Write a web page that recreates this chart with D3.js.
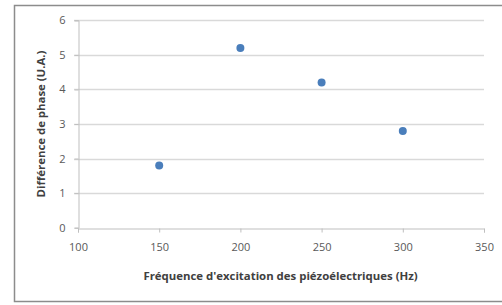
<!DOCTYPE html>
<html><head><meta charset="utf-8">
<script src="https://cdn.jsdelivr.net/npm/d3@7"></script>
<style>body{margin:0;background:#fff}svg{display:block}</style>
</head><body>
<script>
const frequencies = [150, 200, 250, 300];
const phaseDiff = [1.8, 5.2, 4.2, 2.8];
const xTicks = [100, 150, 200, 250, 300, 350];
const yTicks = [0, 1, 2, 3, 4, 5, 6];
const xTitle = "Fréquence d'excitation des piézoélectriques (Hz)";
const yTitle = "Différence de phase (U.A.)";

const W = 502, H = 305;
const svg = d3.select("body").append("svg").attr("width", W).attr("height", H);
svg.append("rect").attr("x", 14.5).attr("y", 5.5).attr("width", 500).attr("height", 296)
  .attr("fill", "#fff").attr("stroke", "#8c8c8c").attr("stroke-width", 1.5);

const x = d3.scaleLinear().domain([100, 350]).range([78, 484]);
const y = d3.scaleLinear().domain([0, 6]).range([227.7, 20.3]);
const font = "'Open Sans', 'Liberation Sans', sans-serif";

// gridlines
svg.append("g").selectAll("line").data(yTicks.filter(d => d > 0)).join("line")
  .attr("x1", 74).attr("x2", x(350)).attr("y1", d => Math.round(y(d)) + 0.5).attr("y2", d => Math.round(y(d)) + 0.5)
  .attr("stroke", "#d9d9d9").attr("stroke-width", 1.3);

// y axis
const yAxis = svg.append("g").attr("transform", `translate(${Math.round(x(100)) + 0.5},0)`)
  .call(d3.axisLeft(y).tickValues(yTicks).tickFormat(d3.format("d")).tickSize(4).tickPadding(9));
// x axis
const xAxis = svg.append("g").attr("transform", `translate(0,${Math.round(y(0)) + 0.5})`)
  .call(d3.axisBottom(x).tickValues(xTicks).tickFormat(d3.format("d")).tickSize(4).tickPadding(11));
[yAxis, xAxis].forEach(a => {
  a.select(".domain").attr("stroke", "#bfbfbf");
  a.selectAll(".tick line").attr("stroke", "#bfbfbf");
  a.selectAll(".tick text").attr("fill", "#595959").attr("font-family", font).attr("font-size", 11);
});

// points
svg.append("g").selectAll("circle").data(frequencies.map((f, i) => [f, phaseDiff[i]])).join("circle")
  .attr("cx", d => x(d[0])).attr("cy", d => y(d[1])).attr("r", 4)
  .attr("fill", "#4a7ebb");

// titles
svg.append("text").attr("x", 280.5).attr("y", 280).attr("text-anchor", "middle")
  .attr("font-family", font).attr("font-weight", "bold").attr("font-size", 11.4).attr("fill", "#404040")
  .text(xTitle);
svg.append("text").attr("transform", "translate(45,124) rotate(-90)").attr("text-anchor", "middle")
  .attr("font-family", font).attr("font-weight", "bold").attr("font-size", 11.4).attr("fill", "#404040")
  .text(yTitle);
</script>
</body></html>
